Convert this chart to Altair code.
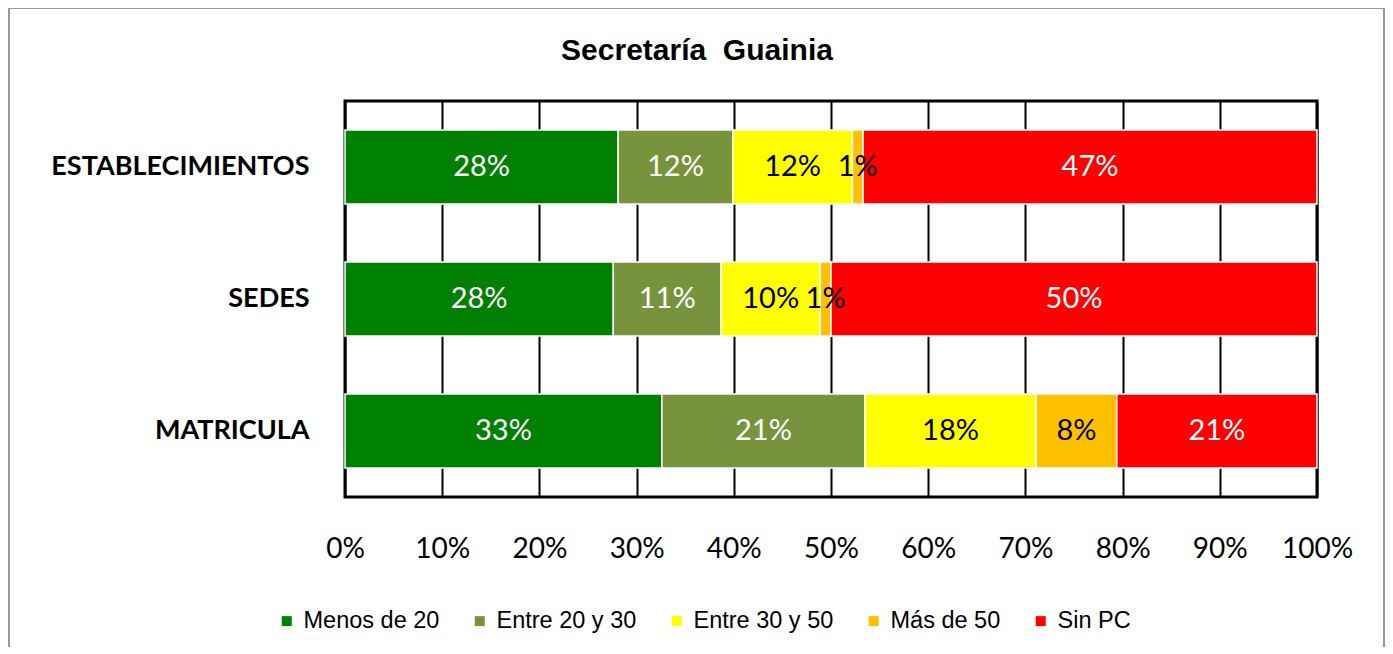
import altair as alt
import pandas as pd

# ---- data ----
categories = ["ESTABLECIMIENTOS", "SEDES", "MATRICULA\u00a0"]
series = ["Menos de 20", "Entre 20 y 30", "Entre 30 y 50", "Más de 50", "Sin PC"]
colors = ["#008000", "#77933C", "#FFFF00", "#FFC000", "#FF0000"]
dark_label_series = ["Entre 30 y 50", "Más de 50"]

menos_20 = [0.281, 0.276, 0.326]
entre_20_30 = [0.118, 0.111, 0.209]
entre_30_50 = [0.123, 0.102, 0.176]
mas_50 = [0.011, 0.011, 0.083]
sin_pc = [0.467, 0.500, 0.206]

x_ticks = [0.0, 0.1, 0.2, 0.3, 0.4, 0.5, 0.6, 0.7, 0.8, 0.9, 1.0]
title_text = "Secretaría\u00a0 Guainia"

# ---- table ----
cols = [menos_20, entre_20_30, entre_30_50, mas_50, sin_pc]
rows = []
for si, (s, vals) in enumerate(zip(series, cols)):
    for ci, c in enumerate(categories):
        rows.append({"category": c, "series": s, "value": vals[ci], "order": si})
df = pd.DataFrame(rows)

W, H = 972, 396
PAD_L, PAD_T, PAD_R, PAD_B = 337, 93, 68, 150

stacked = alt.Chart(df).transform_stack(
    stack="value", groupby=["category"], as_=["x0", "x1"],
    sort=[alt.SortField("order", order="ascending")]
)

y_enc = alt.Y(
    "category:N", sort=categories,
    scale=alt.Scale(paddingInner=0.44, paddingOuter=0.22),
    axis=alt.Axis(title=None, labelFont="Lato", labelFontWeight="bold",
                  labelFontSize=27, labelColor="black", labelPadding=36,
                  ticks=False, domain=False, grid=False, labelLimit=400),
)

bars = stacked.mark_bar(stroke="white", strokeWidth=1.5).encode(
    y=y_enc,
    x=alt.X("x0:Q", scale=alt.Scale(domain=[0, 1], nice=False),
            axis=alt.Axis(title=None, values=x_ticks, format=".0%", grid=True,
                          gridColor="black", gridWidth=2, gridOpacity=1,
                          ticks=False, domain=False, labelFont="Lato",
                          labelFontSize=28, labelColor="black", labelPadding=38,
                          labelFlush=False, labelOverlap=False)),
    x2="x1:Q",
    color=alt.Color("series:N", scale=alt.Scale(domain=series, range=colors),
                    legend=alt.Legend(title=None, orient="none", legendX=-70,
                                      legendY=508, direction="horizontal",
                                      symbolType="square", symbolSize=100,
                                      symbolStrokeWidth=0, labelFont="Liberation Sans",
                                      labelFontSize=23.5, labelColor="black",
                                      columnPadding=28, labelOffset=5, padding=0)),
)

labels = stacked.transform_calculate(
    mid="(datum.x0 + datum.x1) / 2",
    tc="indexof(%s, datum.series) >= 0 ? 'black' : 'white'" % str(dark_label_series),
).mark_text(font="Lato", fontSize=29, baseline="middle", align="center").encode(
    y=alt.Y("category:N", sort=categories),
    x=alt.X("mid:Q"),
    text=alt.Text("value:Q", format=".0%"),
    color=alt.Color("tc:N", scale=None),
)

one = pd.DataFrame({"t": [title_text]})
border = alt.Chart(one).mark_rect(fill="transparent", stroke="#9a9a9a", strokeWidth=2).encode(
    x=alt.value(-336), x2=alt.value(W + PAD_R - 1), y=alt.value(-93), y2=alt.value(700)
)
title = alt.Chart(one).mark_text(font="Liberation Sans", fontWeight="bold", fontSize=30,
                                 align="center", baseline="alphabetic").encode(
    x=alt.value(352), y=alt.value(-41), text="t:N"
)

chart = alt.layer(border, bars, labels, title).properties(
    width=W, height=H,
    autosize=alt.AutoSizeParams(type="none"),
    padding={"left": PAD_L, "top": PAD_T, "right": PAD_R, "bottom": PAD_B},
).configure(background="white").configure_view(stroke="black", strokeWidth=3)

chart.save("out.html", embed_options={"renderer": "svg", "actions": False})
